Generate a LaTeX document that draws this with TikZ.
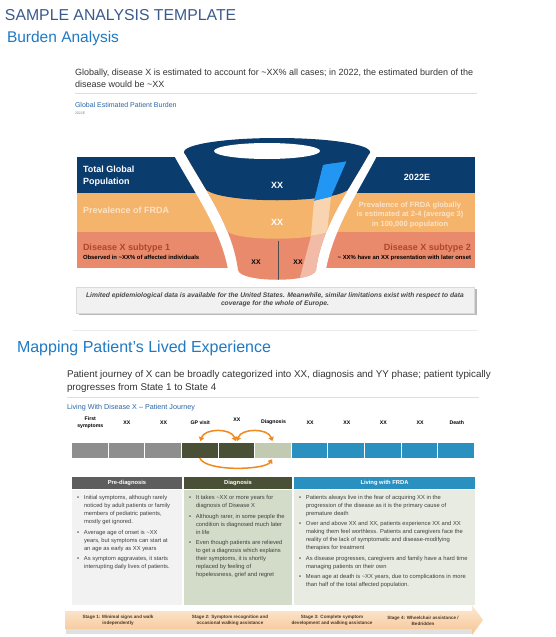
\documentclass[tikz,border=0pt]{standalone}
\usepackage{fontspec}
\setmainfont{Liberation Sans}
\usetikzlibrary{arrows.meta}
\definecolor{ttl}{HTML}{3A5A8C}
\definecolor{sub}{HTML}{1F7AC4}
\definecolor{navy}{HTML}{0B3C6E}
\definecolor{orng}{HTML}{F5B46C}
\definecolor{salm}{HTML}{E98A6D}
\definecolor{brite}{HTML}{2196F3}
\definecolor{peach}{HTML}{F8D4B0}
\definecolor{pinkish}{HTML}{F2BBA8}
\definecolor{cream}{HTML}{FCE3C6}
\definecolor{dred}{HTML}{B0452B}
\definecolor{txt}{HTML}{333333}
\definecolor{smallblue}{HTML}{2A65A8}
\definecolor{cgray}{HTML}{8E8E8E}
\definecolor{olive}{HTML}{4A5036}
\definecolor{sage}{HTML}{C2CAB2}
\definecolor{tealc}{HTML}{2A90BF}
\definecolor{arr}{HTML}{F08A1C}
\definecolor{hgray}{HTML}{5E5E5E}
\definecolor{bga}{HTML}{F2F2F2}
\definecolor{bgb}{HTML}{D3DCC8}
\definecolor{bgc}{HTML}{E7EBE2}
\definecolor{bodytxt}{HTML}{404040}
\definecolor{stagetxt}{HTML}{4A3A2A}
\newcommand{\fz}[2]{\fontsize{#1}{#2}\selectfont}
\newcommand{\bl}{\makebox[7pt][l]{\textbullet}}
\newcommand{\ind}{\hspace*{7pt}}
\tikzset{
  bigttl/.style={anchor=west, font=\fz{15.8}{18}},
  celltl/.style={font=\bfseries\fz{5.2}{7}, align=center, text=black},
  cellbox/.style={minimum width=35.6pt, minimum height=15pt, anchor=north west},
  orar/.style={draw=arr, line width=1.5pt},
  colhead/.style={anchor=north west, minimum height=12pt, text=white, font=\bfseries\fz{5.8}{7}},
  colbody/.style={anchor=north west, minimum height=115pt},
  btxt/.style={anchor=north west, align=left, text=bodytxt, font=\fz{5.8}{8}},
  stagel/.style={font=\bfseries\fz{4.6}{5.8}, align=center, text=stagetxt},
}
\begin{document}
\begin{tikzpicture}[x=1pt,y=-1pt, every node/.style={inner sep=0pt, outer sep=0pt}]
\useasboundingbox (0,0) rectangle (555,637);
\fill[white] (0,0) rectangle (555,637);

% titles
\node[bigttl, text=ttl, font=\fz{15.8}{18}] (title) at (5,15) {SAMPLE ANALYSIS TEMPLATE};
\node[bigttl, text=sub, font=\fz{15.5}{18}] (burden) at (7,38) {Burden Analysis};
\node[anchor=north west, align=left, text=txt, font=\fz{9}{12}] (head1) at (75,68.5)
  {Globally, disease X is estimated to account for \textasciitilde XX\% all cases; in 2022, the estimated burden of the\\disease would be \textasciitilde XX};
\draw[gray!25, line width=0.8pt] (75,93) -- (477,93);
\node[anchor=west, text=smallblue, font=\fz{7}{8}] (gepb) at (75,105) {Global Estimated Patient Burden};
\node[anchor=west, text=gray, font=\fz{3.5}{4}] (yr) at (75,113) {2022E};

% side panels
\fill[navy] (77,157) rectangle (475,193);
\fill[orng] (77,193) rectangle (475,232);
\fill[salm] (77,232) rectangle (475,268);
% white gap round funnel
\fill[white] (170,148) .. controls (192,190) and (222,228) .. (229,275) -- (325,275) .. controls (332,228) and (360,190) .. (381,148) -- cycle;

% funnel body
\begin{scope}
\clip (184,152) .. controls (205,190) and (232,225) .. (238,270) .. controls (240,283) and (314,283) .. (316,270) .. controls (322,225) and (349,190) .. (370,152) -- cycle;
\fill[salm] (150,140) rectangle (400,290);
\fill[orng] (150,140) -- (150,229) -- (226,229) .. controls (226,242) and (328,242) .. (328,229) -- (400,229) -- (400,140) -- cycle;
\fill[navy] (150,140) -- (150,186) -- (204,186) .. controls (204,205) and (350,205) .. (350,186) -- (400,186) -- (400,140) -- cycle;
\fill[brite] (323,165) -- (347,160) -- (331,197) -- (314,201) -- cycle;
\fill[peach] (314,201) -- (331,197) -- (327,233) -- (311,236) -- cycle;
\fill[pinkish] (311,236) -- (327,233) -- (314,285) -- (298,285) -- cycle;
\draw[gray!60!black, line width=0.5pt] (278,241) -- (278,280);
\end{scope}
% top ellipse ring
\fill[navy] (277,152) ellipse [x radius=93pt, y radius=14pt];
\fill[white] (267,151) ellipse [x radius=53pt, y radius=8pt];

\node[text=white, font=\bfseries\fz{9}{10}] (xxa) at (277,185) {XX};
\node[text=white, font=\bfseries\fz{9}{10}] (xxb) at (277,222) {XX};
\node[text=black, font=\bfseries\fz{6.8}{8}] (xxc) at (256,262) {XX};
\node[text=black, font=\bfseries\fz{6.8}{8}] (xxd) at (298,262) {XX};

% left panel texts
\node[anchor=west, align=left, text=white, font=\bfseries\fz{9}{11.5}] (tgp) at (83,176) {Total Global\\Population};
\node[anchor=west, text=cream, font=\bfseries\fz{9}{10}] (pfr) at (83,210) {Prevalence of FRDA};
\node[anchor=west, text=dred, font=\bfseries\fz{9}{10}] (ds1) at (83,248) {Disease X subtype 1};
\node[anchor=west, text=black, font=\bfseries\fz{5.9}{6}] (ds1t) at (83,257.5) {Observed in \textasciitilde XX\% of affected individuals};
% right panel texts
\node[text=white, font=\bfseries\fz{9}{10}] (yr2) at (417,177) {2022E};
\node[align=center, text=cream, font=\bfseries\fz{7.5}{9.5}] (pfg) at (410,215) {Prevalence of FRDA globally\\is estimated at 2-4 (average 3)\\in 100,000 population};
\node[anchor=east, text=dred, font=\bfseries\fz{9}{10}] (ds2) at (471,248) {Disease X subtype 2};
\node[anchor=east, text=black, font=\bfseries\fz{5.9}{6}] (ds2t) at (471,257.5) {\textasciitilde\ XX\% have an XX presentation with later onset};

% note box
\fill[gray!55] (79,289) rectangle (477,315);
\node[fill=gray!11, draw=gray!30, line width=0.4pt, anchor=north west, minimum width=398pt, minimum height=26pt] (note) at (76,287) {};
\node[align=center, text=black!72, font=\bfseries\itshape\fz{6.7}{7.8}] (notet) at (note.center)
  {Limited epidemiological data is available for the United States. Meanwhile, similar limitations exist with respect to data\\coverage for the whole of Europe.};
\draw[gray!15, line width=0.8pt] (73,330) -- (478,330);

% second section
\node[bigttl, text=sub, font=\fz{16}{18}] (mapping) at (17,348) {Mapping Patient's Lived Experience};
\node[anchor=north west, align=left, text=txt, font=\fz{9.8}{13}] (head2) at (67,370.5)
  {Patient journey of X can be broadly categorized into XX, diagnosis and YY phase; patient typically\\progresses from State 1 to State 4};
\draw[gray!25, line width=0.8pt] (67,397) -- (479,397);
\node[anchor=west, text=smallblue, font=\fz{7.2}{8}] (lwd) at (67,408) {Living With Disease X -- Patient Journey};

% timeline
\foreach \i/\c in {1/cgray,2/cgray,3/cgray,4/olive,5/olive,6/sage,7/tealc,8/tealc,9/tealc,10/tealc,11/tealc}
  \node[cellbox, fill=\c] (c\i) at ({72+36.64*(\i-1)},443) {};
\foreach \i/\t in {1/{First\\symptoms},2/XX,3/XX,4/GP visit,6/Diagnosis,7/XX,8/XX,9/XX,10/XX,11/Death}
  \node[celltl] (t\i) at ({72+36.64*(\i-0.5)},422.5) {\t};
\node[celltl] (t5) at ({72+36.64*4.5},420) {XX};

\draw[orar, {Triangle[length=4pt,width=5.5pt]}-{Triangle[length=4pt,width=5.5pt]}, shorten <=2pt, shorten >=2pt]
  (c4.north) .. controls +(5,-15) and +(-5,-15) .. (c5.north);
\draw[orar, {Triangle[length=4pt,width=5.5pt]}-{Triangle[length=4pt,width=5.5pt]}, shorten <=2pt, shorten >=2pt]
  (c5.north) .. controls +(5,-15) and +(-5,-15) .. (c6.north);
\draw[orar, -{Triangle[length=4pt,width=5.5pt]}, shorten >=1.5pt]
  (c4.south) .. controls +(6,14) and +(-8,12) .. (c6.south);

% columns
\node[colhead, fill=hgray, minimum width=110pt] (h1) at (72,477) {Pre-diagnosis};
\node[colhead, fill=olive, minimum width=108pt] (h2) at (184,477) {Diagnosis};
\node[colhead, fill=tealc, minimum width=181pt] (h3) at (294,477) {Living with FRDA};
\node[colbody, fill=bga, minimum width=110pt] (b1) at (72,490) {};
\node[colbody, fill=bgb, minimum width=108pt] (b2) at (184,490) {};
\node[colbody, fill=bgc, minimum width=181pt] (b3) at (294,490) {};

\node[btxt] (p11) at (77,495) {\bl Initial symptoms, although rarely\\\ind noticed by adult patients or family\\\ind members of pediatric patients,\\\ind mostly get ignored.};
\node[btxt] (p12) at (77,530) {\bl Average age of onset is \textasciitilde XX\\\ind years, but symptoms can start at\\\ind an age as early as XX years};
\node[btxt] (p13) at (77,556) {\bl As symptom aggravates, it starts\\\ind interrupting daily lives of patients.};

\node[btxt] (p21) at (189,495) {\bl It takes \textasciitilde XX or more years for\\\ind diagnosis of Disease X};
\node[btxt] (p22) at (189,514) {\bl Although rarer, in some people the\\\ind condition is diagnosed much later\\\ind in life};
\node[btxt] (p23) at (189,540) {\bl Even though patients are relieved\\\ind to get a diagnosis which explains\\\ind their symptoms, it is shortly\\\ind replaced by feeling of\\\ind hopelessness, grief and regret};

\node[btxt] (p31) at (299,495) {\bl Patients always live in the fear of acquiring XX in the\\\ind progression of the disease as it is the primary cause of\\\ind premature death};
\node[btxt] (p32) at (299,521) {\bl Over and above XX and XX, patients experience XX and XX\\\ind making them feel worthless. Patients and caregivers face the\\\ind reality of the lack of symptomatic and disease-modifying\\\ind therapies for treatment};
\node[btxt] (p33) at (299,556) {\bl As disease progresses, caregivers and family have a hard time\\\ind managing patients on their own};
\node[btxt] (p34) at (299,574) {\bl Mean age at death is \textasciitilde XX years, due to complications in more\\\ind than half of the total affected population.};

% stage arrow
\fill[black!12] (66,629) rectangle (472,634);
\shade[top color={rgb,255:red,252;green,234;blue,214}, bottom color={rgb,255:red,246;green,196;blue,146}]
  (65,611) -- (472,611) -- (472,605) -- (483,620) -- (472,635) -- (472,629) -- (65,629) -- cycle;
\node[stagel] (s1) at (118,620.5) {Stage 1: Minimal signs and walk\\independently};
\node[stagel] (s2) at (230,620.5) {Stage 2: Symptom recognition and\\occasional walking assistance};
\node[stagel] (s3) at (332,620.5) {Stage 3: Complete symptom\\development and walking assistance};
\node[stagel] (s4) at (423,620.5) {Stage 4: Wheelchair assistance /\\Bedridden};
\end{tikzpicture}
\end{document}
